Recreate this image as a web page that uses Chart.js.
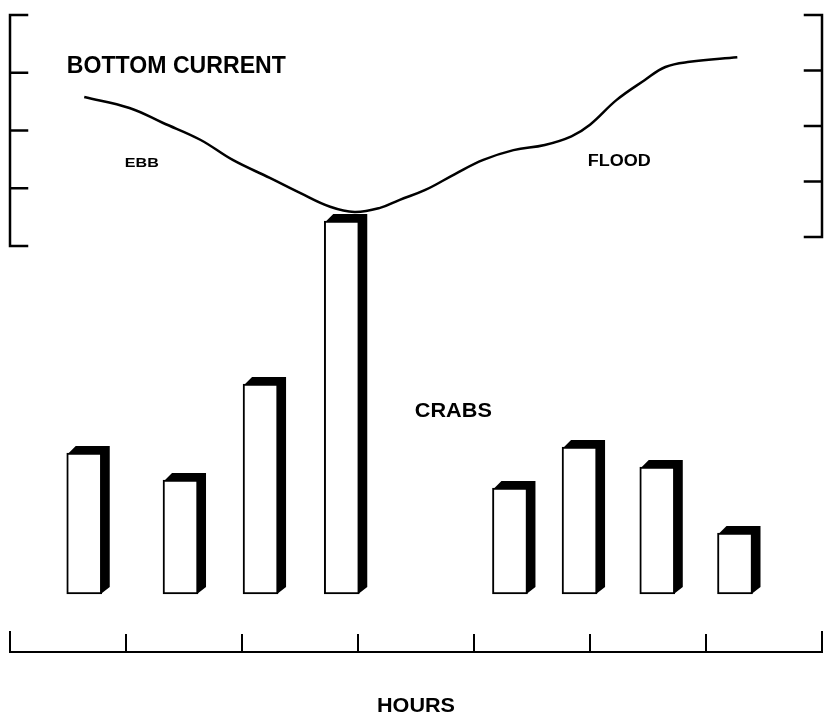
<!DOCTYPE html>
<html>
<head>
<meta charset="utf-8">
<script src="https://cdn.jsdelivr.net/npm/chart.js@4.4.1/dist/chart.umd.min.js"></script>
<style>
html, body { margin: 0; background: #fff; }
#wrap { width: 825px; height: 717px; }
</style>
</head>
<body>
<div id="wrap"><canvas id="crabs"></canvas></div>
<script>
// hours along the bottom, 0..7
const hourTicks = [0, 1, 2, 3, 4, 5, 6, 7];

// crab bars (position in hours, relative count)
const crabHours = [0.64, 1.47, 2.16, 2.86, 4.31, 4.91, 5.58, 6.25];
const crabCounts = [14.1, 11.4, 21.0, 37.3, 10.6, 14.7, 12.7, 6.1];

// bottom current trace (hours, relative speed)
const currentHours = [0.64, 1.03, 1.32, 1.64, 1.92, 2.24, 2.5, 2.76, 2.97, 3.19, 3.36, 3.58, 3.84, 4.08, 4.34, 4.61, 4.84, 5.0, 5.23, 5.47, 5.65, 5.86, 6.27];
const currentSpeed = [2.58, 2.39, 2.13, 1.84, 1.49, 1.18, 0.92, 0.68, 0.59, 0.66, 0.80, 0.97, 1.25, 1.49, 1.66, 1.75, 1.90, 2.10, 2.53, 2.87, 3.10, 3.19, 3.27];
const currentTicks = [0, 1, 2, 3, 4];

const ink = "#000";

function fitText(ctx, text, x, y, size, width) {
    ctx.save();
    ctx.font = "bold " + size + "px 'Liberation Sans', Arial, sans-serif";
    const w = ctx.measureText(text).width;
    ctx.translate(x, y);
    ctx.scale(width / w, 1);
    ctx.fillStyle = ink;
    ctx.textBaseline = "alphabetic";
    ctx.fillText(text, 0, 0);
    ctx.restore();
}

const sketch = {
    id: "sketch",
    afterDatasetsDraw(chart) {
        const ctx = chart.ctx;
        const x = chart.scales.x;
        const yc = chart.scales.yCur;
        const ycr = chart.scales.yCurR;
        const yb = chart.scales.yCrab;
        const bottom = chart.chartArea.bottom;

        // shaded side and top of each bar
        const dx = 8, dy = 7;
        chart.getDatasetMeta(1).data.forEach(bar => {
            const L = bar.x - bar.width / 2;
            const R = bar.x + bar.width / 2;
            const T = bar.y, B = bar.base;
            ctx.beginPath();
            ctx.moveTo(L + 1, T + 1);
            ctx.lineTo(L + 1 + dx, T - dy);
            ctx.lineTo(R + dx, T - dy);
            ctx.lineTo(R + dx, B - dy);
            ctx.lineTo(R - 1, B);
            ctx.lineTo(R - 1, T + 1);
            ctx.closePath();
            ctx.fillStyle = ink;
            ctx.fill();
        });

        ctx.save();
        ctx.strokeStyle = ink;
        ctx.lineWidth = 2.5;
        ctx.lineCap = "square";

        // left bracket
        const lx = x.getPixelForValue(0);
        ctx.beginPath();
        ctx.moveTo(lx, yc.getPixelForValue(0));
        ctx.lineTo(lx, yc.getPixelForValue(4));
        currentTicks.forEach(t => {
            const py = yc.getPixelForValue(t);
            ctx.moveTo(lx, py);
            ctx.lineTo(lx + 17, py);
        });
        ctx.stroke();

        // right bracket
        const rx = x.getPixelForValue(7);
        ctx.beginPath();
        ctx.moveTo(rx, ycr.getPixelForValue(0));
        ctx.lineTo(rx, ycr.getPixelForValue(4));
        currentTicks.forEach(t => {
            const py = ycr.getPixelForValue(t);
            ctx.moveTo(rx, py);
            ctx.lineTo(rx - 17, py);
        });
        ctx.stroke();

        // hours axis
        ctx.lineWidth = 2;
        ctx.beginPath();
        ctx.moveTo(lx, bottom);
        ctx.lineTo(rx, bottom);
        hourTicks.forEach(h => {
            const px = x.getPixelForValue(h);
            const len = (h === 0 || h === 7) ? 20 : 17;
            ctx.moveTo(px, bottom);
            ctx.lineTo(px, bottom - len);
        });
        ctx.stroke();
        ctx.restore();

        // labels
        fitText(ctx, "BOTTOM CURRENT", x.getPixelForValue(0.49), yc.getPixelForValue(3.0), 23, 219);
        fitText(ctx, "EBB", x.getPixelForValue(0.99), yc.getPixelForValue(1.37), 13, 34);
        fitText(ctx, "FLOOD", x.getPixelForValue(4.98), yc.getPixelForValue(1.385), 16, 63);
        fitText(ctx, "CRABS", x.getPixelForValue(3.49), yb.getPixelForValue(17.7), 21, 77);
        fitText(ctx, "HOURS", x.getPixelForValue(3.5) - 39, bottom + 60, 20, 78);
    }
};

new Chart(document.getElementById("crabs"), {
    data: {
        datasets: [
            {
                type: "line",
                label: "Bottom current",
                data: currentHours.map((h, i) => ({ x: h, y: currentSpeed[i] })),
                yAxisID: "yCur",
                borderColor: ink,
                borderWidth: 2.5,
                pointRadius: 0,
                tension: 0.4,
                fill: false,
            },
            {
                type: "bar",
                label: "Crabs",
                data: crabHours.map((h, i) => ({ x: h, y: crabCounts[i] })),
                yAxisID: "yCrab",
                backgroundColor: "#fff",
                borderColor: ink,
                borderWidth: 2,
                borderSkipped: false,
                barThickness: 35,
            },
        ],
    },
    options: {
        responsive: true,
        maintainAspectRatio: false,
        animation: false,
        layout: { padding: { left: 10, right: 3, top: 15, bottom: 65 } },
        plugins: {
            legend: { display: false },
            tooltip: { enabled: false },
        },
        scales: {
            x: { type: "linear", min: 0, max: 7, offset: false, display: false },
            yCrab: { type: "linear", min: -5.8, max: 57.9, display: false },
            yCur: { type: "linear", min: -7.03, max: 4, display: false },
            yCurR: { type: "linear", min: -7.477, max: 4, display: false },
        },
    },
    plugins: [sketch],
});
</script>
</body>
</html>
